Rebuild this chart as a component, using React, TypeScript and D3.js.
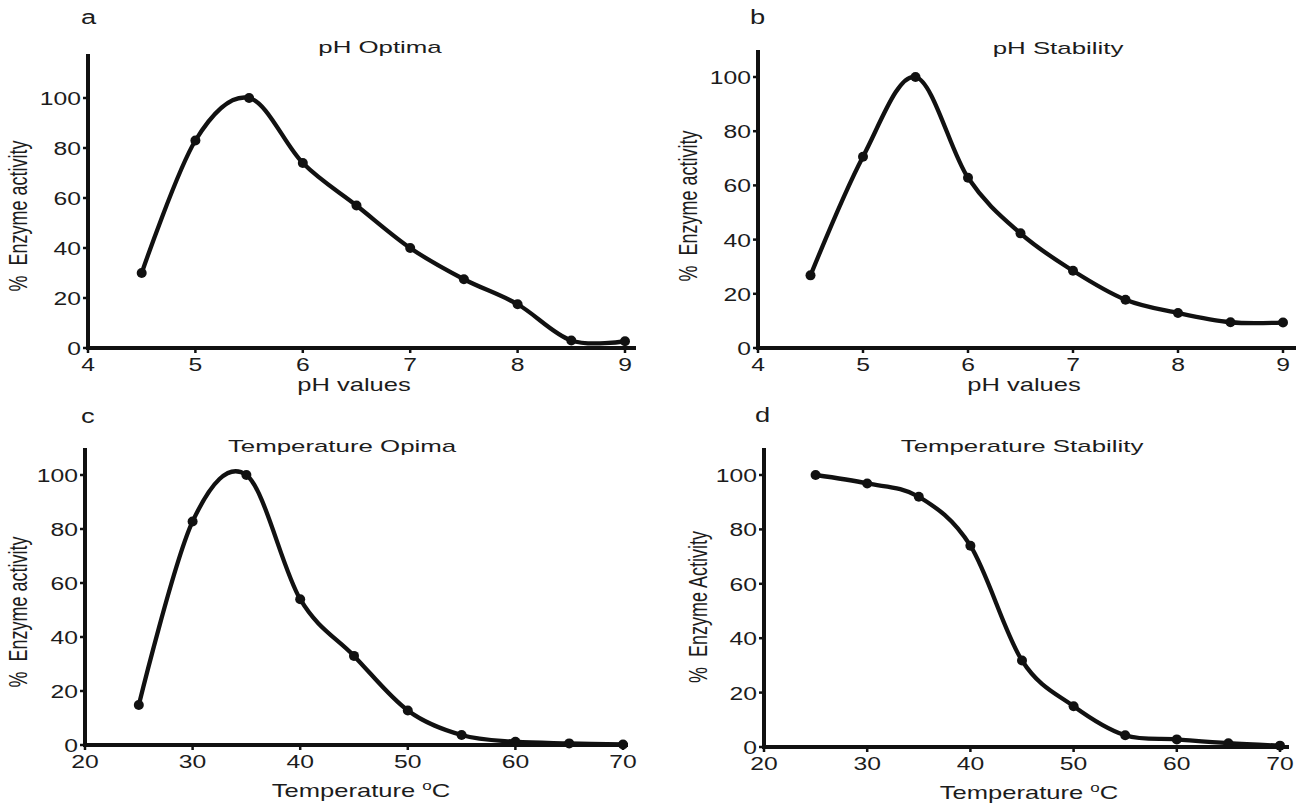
import React, { useEffect, useRef } from 'react';
import * as d3 from 'd3';

// values
const phValues = [4.5, 5, 5.5, 6, 6.5, 7, 7.5, 8, 8.5, 9];
const phOptima = [30, 83, 100, 74, 57, 40, 27.5, 17.5, 3, 2.7];
const phStability = [26.8, 70.6, 100, 62.8, 42.3, 28.5, 17.8, 12.9, 9.5, 9.4];
const tempValues = [25, 30, 35, 40, 45, 50, 55, 60, 65, 70];
const tempOptima = [14.8, 82.8, 100, 54, 33, 12.8, 3.7, 1.2, 0.6, 0.2];
const tempStability = [100, 96.9, 92, 74, 31.8, 15, 4.3, 2.8, 1.4, 0.5];
const phTicks = [4, 5, 6, 7, 8, 9];
const tempTicks = [20, 30, 40, 50, 60, 70];
const yTicks = [0, 20, 40, 60, 80, 100];

const FONT = '"Liberation Sans", Arial, sans-serif';
const INK = '#111';
const TXT = '#1c1c1c';

// panel layout (pixel boxes only)
const panels = [
  {
    letter: 'a', title: 'pH Optima', ylabel: 'Enzyme activity', xlabel: 'pH values', sup: false,
    xs: phValues, ys: phOptima, ticks: phTicks, xDom: [4, 9],
    ax: 88, xEnd: 625, xAxisEnd: 636, y0: 348, y100: 98, yTop: 54,
    letterX: 81, letterY: 24, titleX: 380, titleY: 53, xlX: 354, xlY: 391, ylX: 27, ylY: 216,
  },
  {
    letter: 'b', title: 'pH Stability', ylabel: 'Enzyme activity', xlabel: 'pH values', sup: false,
    xs: phValues, ys: phStability, ticks: phTicks, xDom: [4, 9],
    ax: 758, xEnd: 1283, xAxisEnd: 1296, y0: 348, y100: 77, yTop: 50,
    letterX: 750, letterY: 24, titleX: 1058, titleY: 54, xlX: 1024, xlY: 391, ylX: 697, ylY: 206,
  },
  {
    letter: 'c', title: 'Temperature Opima', ylabel: 'Enzyme activity', xlabel: 'Temperature ', sup: true,
    xs: tempValues, ys: tempOptima, ticks: tempTicks, xDom: [20, 70],
    ax: 85, xEnd: 623, xAxisEnd: 628, y0: 745, y100: 475, yTop: 448,
    letterX: 81, letterY: 423, titleX: 342, titleY: 452, xlX: 361, xlY: 797, ylX: 27, ylY: 612,
  },
  {
    letter: 'd', title: 'Temperature Stability', ylabel: 'Enzyme Activity', xlabel: 'Temperature ', sup: true,
    xs: tempValues, ys: tempStability, ticks: tempTicks, xDom: [20, 70],
    ax: 764, xEnd: 1280, xAxisEnd: 1289, y0: 747, y100: 475, yTop: 448,
    letterX: 755, letterY: 422, titleX: 1022, titleY: 452, xlX: 1029, xlY: 799, ylX: 707, ylY: 607,
  },
];

const App = () => {
  const svgRef = useRef<SVGSVGElement>(null);

  useEffect(() => {
    if (!svgRef.current) return;
    const svg = d3.select(svgRef.current);
    svg.selectAll('*').remove();

    panels.forEach(p => {
      const g = svg.append('g');
      const x = d3.scaleLinear().domain(p.xDom).range([p.ax, p.xEnd]);
      const y = d3.scaleLinear().domain([0, 100]).range([p.y0, p.y100]);

      // axes lines
      g.append('line')
        .attr('x1', p.ax).attr('x2', p.ax)
        .attr('y1', p.yTop).attr('y2', p.y0 + 2)
        .attr('stroke', INK).attr('stroke-width', 4);
      g.append('line')
        .attr('x1', p.ax - 2).attr('x2', p.xAxisEnd)
        .attr('y1', p.y0).attr('y2', p.y0)
        .attr('stroke', INK).attr('stroke-width', 4);

      // y ticks
      yTicks.forEach(t => {
        g.append('line')
          .attr('x1', p.ax - 5).attr('x2', p.ax)
          .attr('y1', y(t)).attr('y2', y(t))
          .attr('stroke', INK).attr('stroke-width', 2.5);
        g.append('text')
          .attr('transform', `translate(${p.ax - 7},${y(t) + 7}) scale(1.3,1)`)
          .attr('text-anchor', 'end')
          .attr('font-family', FONT).attr('font-size', 19).attr('fill', TXT)
          .text(t);
      });

      // x ticks
      p.ticks.forEach(t => {
        g.append('line')
          .attr('x1', x(t)).attr('x2', x(t))
          .attr('y1', p.y0).attr('y2', p.y0 + 5)
          .attr('stroke', INK).attr('stroke-width', 2.5);
        g.append('text')
          .attr('transform', `translate(${x(t)},${p.y0 + 23}) scale(1.3,1)`)
          .attr('text-anchor', 'middle')
          .attr('font-family', FONT).attr('font-size', 19).attr('fill', TXT)
          .text(t);
      });

      // curve
      const pts = p.xs.map((v, i) => [v, p.ys[i]] as [number, number]);
      const line = d3.line<[number, number]>()
        .x(d => x(d[0]))
        .y(d => y(d[1]))
        .curve(d3.curveCardinal.tension(0));
      g.append('path')
        .attr('d', line(pts))
        .attr('fill', 'none')
        .attr('stroke', INK)
        .attr('stroke-width', 4.3)
        .attr('stroke-linejoin', 'round');
      g.selectAll('circle.pt')
        .data(pts)
        .enter()
        .append('circle')
        .attr('cx', d => x(d[0]))
        .attr('cy', d => y(d[1]))
        .attr('r', 5)
        .attr('fill', INK);

      // panel letter
      g.append('text')
        .attr('transform', `translate(${p.letterX},${p.letterY}) scale(1.3,1)`)
        .attr('font-family', FONT).attr('font-size', 21).attr('fill', TXT)
        .text(p.letter);

      // title
      g.append('text')
        .attr('transform', `translate(${p.titleX},${p.titleY}) scale(1.52,1)`)
        .attr('text-anchor', 'middle')
        .attr('font-family', FONT).attr('font-size', 17).attr('fill', TXT)
        .text(p.title);

      // x label
      const xl = g.append('text')
        .attr('transform', `translate(${p.xlX},${p.xlY}) scale(1.42,1)`)
        .attr('text-anchor', 'middle')
        .attr('font-family', FONT).attr('font-size', 18).attr('fill', TXT)
        .style('white-space', 'pre');
      xl.append('tspan').text(p.xlabel);
      if (p.sup) {
        xl.append('tspan').attr('dy', -7).attr('font-size', 12).text('o');
        xl.append('tspan').attr('dy', 7).text('C');
      }

      // y label
      g.append('text')
        .attr('transform', `translate(${p.ylX},${p.ylY}) rotate(-90) scale(1,1.42)`)
        .attr('text-anchor', 'middle')
        .attr('font-family', FONT).attr('font-size', 18).attr('fill', TXT)
        .style('white-space', 'pre')
        .text(`%  ${p.ylabel}`);
    });
  }, []);

  return (
    <div style={{ position: 'absolute', left: 0, top: 0, width: 1314, height: 805, background: '#fff' }}>
      <svg ref={svgRef} width={1314} height={805}></svg>
    </div>
  );
};

export default App;
